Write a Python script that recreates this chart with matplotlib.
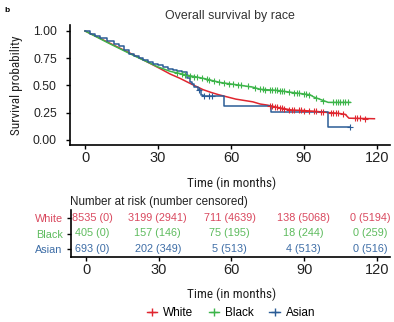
import numpy as np
import matplotlib
matplotlib.use("Agg")
import matplotlib.pyplot as plt
from matplotlib.lines import Line2D
from matplotlib import font_manager

# ---------------- data ----------------
groups = ["White", "Black", "Asian"]
colors = ["#E0262F", "#3DB54A", "#2B5C96"]
table_colors = ["#D9485E", "#5DBB5D", "#3D6DA6"]

white_t = [0, 5, 10, 20, 30, 35, 39, 44, 48.5, 52, 55, 62, 69, 72, 75, 80, 85, 90, 95, 100, 104, 107, 108.5, 119]
white_s = [1.0, 0.945, 0.89, 0.78, 0.665, 0.605, 0.566, 0.51, 0.462, 0.435, 0.415, 0.375, 0.35, 0.33, 0.32,
           0.295, 0.275, 0.27, 0.262, 0.252, 0.245, 0.235, 0.2, 0.195]

black_t = [0, 10, 20, 30, 35, 39, 42, 48.5, 55.5, 62.5, 69, 72, 79, 85.5, 92.5, 94, 97, 100, 109]
black_s = [1.0, 0.885, 0.775, 0.67, 0.63, 0.61, 0.595, 0.566, 0.528, 0.506, 0.485, 0.465, 0.455, 0.435,
           0.415, 0.395, 0.37, 0.345, 0.345]

asian_t = [0, 2, 4, 6, 9, 12, 14, 16, 18, 20, 22, 24, 26, 28, 30, 32, 34, 36, 38, 40, 42, 43, 44, 45,
           46.5, 47.5, 48.5, 57, 76.5, 100, 109]
asian_s = [1.0, 0.975, 0.955, 0.935, 0.91, 0.885, 0.86, 0.83, 0.79, 0.77, 0.75, 0.735, 0.72, 0.70, 0.685,
           0.67, 0.655, 0.645, 0.635, 0.62, 0.57, 0.535, 0.51, 0.49, 0.46, 0.415, 0.40, 0.315, 0.26, 0.122, 0.122]

white_cens = [76, 77, 78, 79, 80, 81, 82, 84, 85, 86, 88, 89, 90, 92, 94, 95, 97, 98, 101, 102, 103, 104,
              106, 111, 112, 113, 115]
black_cens = [38, 40, 41, 43, 45, 46, 48, 50, 51, 53, 55, 57, 59, 61, 63, 64, 67, 70, 72, 73, 74, 76, 77,
              78, 79, 80, 81, 82, 84, 86, 87, 88, 90, 91, 92, 95, 98, 102, 103, 104, 105, 106, 107, 108]
asian_cens = [47, 49, 51, 52, 109]

time_breaks = [0, 30, 60, 90, 120]
y_breaks = [0.00, 0.25, 0.50, 0.75, 1.00]
risk_white = ["8535 (0)", "3199 (2941)", "711 (4639)", "138 (5068)", "0 (5194)"]
risk_black = ["405 (0)", "157 (146)", "75 (195)", "18 (244)", "0 (259)"]
risk_asian = ["693 (0)", "202 (349)", "5 (513)", "4 (513)", "0 (516)"]

# ---------------- figure ----------------
W, H = 394, 322
fig = plt.figure(figsize=(W / 100, H / 100), dpi=100)
plt.rcParams['font.family'] = ['Liberation Sans', 'DejaVu Sans']

# condensed font for axis titles, if one is installed
flist = font_manager.fontManager.ttflist
names = {f.name for f in flist}
narrow_kw = None
for cand in ['Liberation Sans Narrow', 'Arial Narrow', 'Roboto Condensed', 'Open Sans Condensed']:
    if cand in names:
        narrow_kw = dict(family=[cand, 'DejaVu Sans'], fontsize=9.5)
        break
if narrow_kw is None:
    cond = [f for f in flist if f.name == 'DejaVu Sans' and str(f.stretch) in ('condensed', 'semi-condensed', '300', '400')
            and 'ondensed' in f.fname]
    if cond:
        narrow_kw = dict(fontproperties=font_manager.FontProperties(fname=cond[0].fname, size=8.6))
    else:
        narrow_kw = dict(family=['Liberation Sans', 'DejaVu Sans'], fontsize=8.2)

def box(x0, y0, x1, y1):
    return [x0 / W, 1 - y1 / H, (x1 - x0) / W, (y1 - y0) / H]

def px(x, y):
    return x / W, 1 - y / H

xlim = (-6.2, 125.4)

ax = fig.add_axes(box(70, 25, 390, 145))
curves = [(white_t, white_s, white_cens, 'line'),
          (black_t, black_s, black_cens, 'line'),
          (asian_t, asian_s, asian_cens, 'step')]
for (t, s, c, kind), col in zip(curves, colors):
    t = np.asarray(t, float); s = np.asarray(s, float)
    if kind == 'step':
        ax.plot(t, s, drawstyle='steps-post', color=col, lw=1.1, zorder=3)
        idx = np.searchsorted(t, c, side='right') - 1
        cy = s[idx]
    else:
        ax.plot(t, s, color=col, lw=1.1, zorder=3)
        cy = np.interp(c, t, s)
    ax.plot(c, cy, ls='none', marker='+', ms=5, mew=0.8, color=col, zorder=4)

ax.set_xlim(*xlim)
ax.set_ylim(-0.046, 1.055)
ax.set_xticks(time_breaks)
ax.set_xticklabels([str(v) for v in time_breaks], fontsize=10.5, color='#222222')
ax.set_yticks(y_breaks)
ax.set_yticklabels([f"{v:.2f}" for v in y_breaks], fontsize=8.8, color='#222222')
ax.tick_params(axis='x', length=3, width=1, pad=1.5)
ax.tick_params(axis='y', length=3, width=1, pad=6.5)
for sp in ['top', 'right']:
    ax.spines[sp].set_visible(False)
for sp in ['left', 'bottom']:
    ax.spines[sp].set_linewidth(1.2)
ax.set_facecolor('none')

# risk table
axt = fig.add_axes(box(71, 210, 390, 257))
axt.set_xlim(*xlim)
axt.set_ylim(2.5, -0.5)
offsets = [6, -1, -2, -1, -7]
for i, (rows, col) in enumerate(zip([risk_white, risk_black, risk_asian], table_colors)):
    for x, txt, off in zip(time_breaks, rows, offsets):
        axt.annotate(txt, (x, i), xytext=(off * 0.72, 0), textcoords='offset points',
                     ha='center', va='center', fontsize=7.8, color=col)
axt.set_yticks([0, 1, 2])
axt.set_yticklabels(groups, fontsize=7.8)
for lab, col in zip(axt.get_yticklabels(), table_colors):
    lab.set_color(col)
axt.set_xticks(time_breaks)
axt.set_xticklabels([str(v) for v in time_breaks], fontsize=10.5, color='#222222')
axt.tick_params(axis='x', length=3, width=1, pad=1.5)
axt.tick_params(axis='y', length=3, width=1, pad=3)
for sp in ['top', 'right']:
    axt.spines[sp].set_visible(False)
for sp in ['left', 'bottom']:
    axt.spines[sp].set_linewidth(1.2)
axt.set_facecolor('none')

# texts
fig.text(*px(230, 15.5), "Overall survival by race", ha='center', va='center', fontsize=8.9, color='#333333')
fig.text(*px(17, 85), "Survival probability", ha='center', va='center', rotation=90,
         color='#222222', **narrow_kw)
fig.text(*px(232, 183), "Time (in months)", ha='center', va='center', color='#222222', **narrow_kw)
fig.text(*px(70, 202), "Number at risk (number censored)", ha='left', va='center', fontsize=8.4, color='#222222')
fig.text(*px(232, 294), "Time (in months)", ha='center', va='center', color='#222222', **narrow_kw)
fig.text(*px(4, 10), "b", ha='left', va='center', fontsize=6, weight='bold', color='black')

handles = [Line2D([], [], color=c, marker='+', ms=6, mew=1, lw=1) for c in colors]
fig.legend(handles, groups, loc='center', bbox_to_anchor=px(231, 313), ncol=3, frameon=False,
           fontsize=8.5, handlelength=0.9, handletextpad=0.5, columnspacing=1.3, borderaxespad=0)

fig.savefig("out.png", dpi=100)
